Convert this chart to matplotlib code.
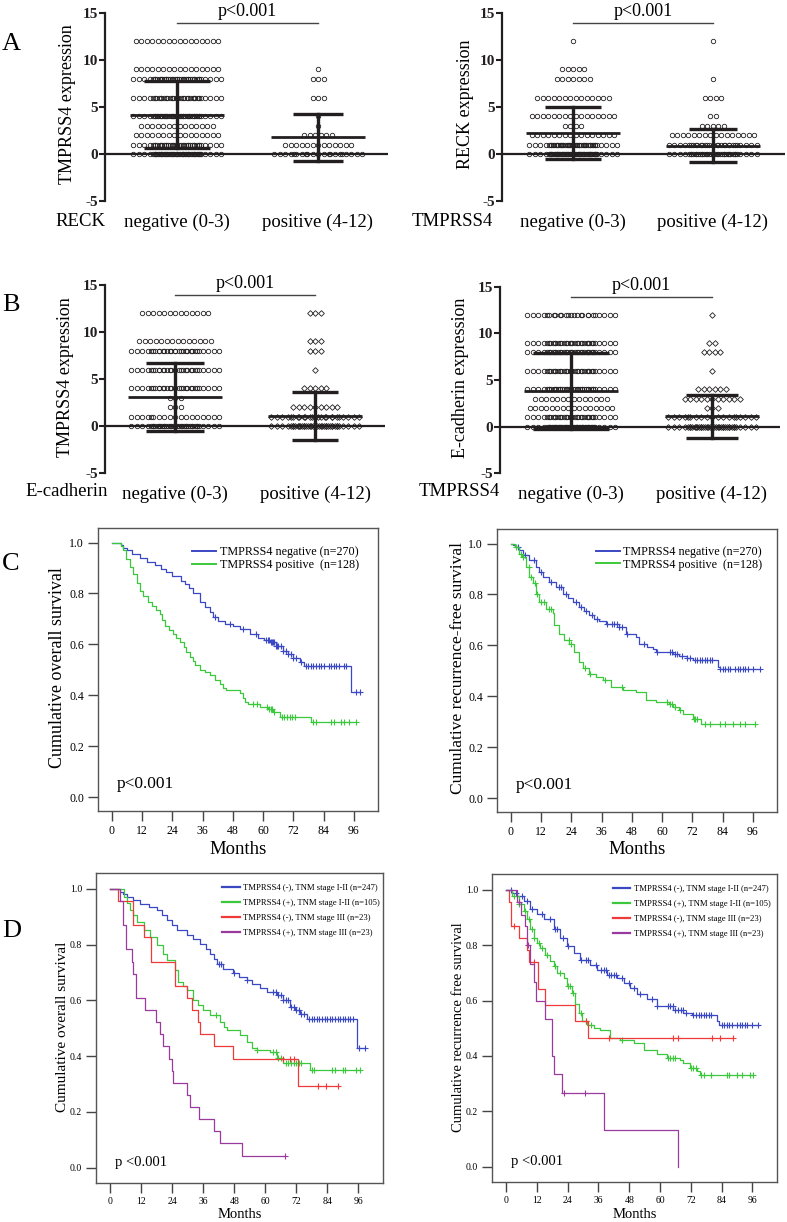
import numpy as np
import matplotlib
matplotlib.use('Agg')
import matplotlib.pyplot as plt
from matplotlib.ticker import FormatStrFormatter
from matplotlib.lines import Line2D

plt.rcParams['font.family'] = ['Liberation Serif', 'DejaVu Serif']

# ================= DATA =================
# Panels A/B: number of cases at each immunostaining score, per group
score_levels = [0, 1, 2, 3, 4, 6, 8, 9, 12]

a1_neg_counts = [50, 40, 16, 14, 45, 35, 40, 16, 16]   # TMPRSS4 expr, RECK negative
a1_pos_counts = [22, 13, 6, 1, 1, 3, 3, 1, 0]          # TMPRSS4 expr, RECK positive
a2_neg_counts = [60, 45, 16, 4, 16, 14, 7, 5, 1]       # RECK expr, TMPRSS4 negative
a2_pos_counts = [40, 30, 16, 5, 2, 4, 1, 0, 1]         # RECK expr, TMPRSS4 positive
b1_neg_counts = [40, 18, 3, 3, 30, 30, 30, 14, 13]     # TMPRSS4 expr, E-cad negative
b1_pos_counts = [40, 25, 9, 0, 5, 1, 3, 3, 3]          # TMPRSS4 expr, E-cad positive
b2_neg_counts = [50, 35, 16, 14, 40, 35, 35, 35, 25]   # E-cad expr, TMPRSS4 negative
b2_pos_counts = [40, 20, 3, 11, 6, 1, 4, 2, 1]         # E-cad expr, TMPRSS4 positive

# mean, SD
a1_stats = [(4.2, 3.6), (1.8, 2.5)]
a2_stats = [(2.2, 2.75), (0.9, 1.8)]
b1_stats = [(3.1, 3.65), (1.05, 2.55)]
b2_stats = [(3.8, 4.1), (1.1, 2.3)]

group_labels = ['negative (0-3)', 'positive (4-12)']
p_text = 'p<0.001'
y_ticks_ab = [-5, 0, 5, 10, 15]

# Panel C: Kaplan-Meier (time in months, survival)
c_os_neg_t = [3.5, 4.4, 6, 8, 11, 14, 17, 19.5, 21.6, 24, 27.5, 29, 30.5, 32, 34.8, 37, 39, 40.1,
              42.1, 45, 48.1, 51, 54.7, 58, 60.5, 62.6, 65, 67.9, 70, 72, 74.6, 76.2, 95]
c_os_neg_s = [0.99, 0.978, 0.97, 0.955, 0.94, 0.925, 0.91, 0.895, 0.885, 0.87, 0.85, 0.835, 0.82, 0.80,
              0.765, 0.745, 0.725, 0.706, 0.69, 0.68, 0.673, 0.66, 0.64, 0.625, 0.615, 0.608, 0.595,
              0.575, 0.56, 0.545, 0.53, 0.516, 0.414]
c_os_neg_end = 98.4
c_os_neg_cens = [41, 47, 52, 57, 61, 62, 62.5, 63, 63.5, 64, 64.5, 65, 65.5, 66, 67, 68, 69, 70, 71,
                 72, 73, 75, 77, 78, 79, 80, 81, 82, 83, 84, 86, 87, 88, 89, 90, 92, 93, 97, 98.4]

c_os_pos_t = [3.8, 4.5, 5.7, 7, 8.5, 10, 11, 12.5, 14.3, 16, 17.5, 19, 20, 21, 22.5, 24.2, 25.5, 26.9,
              28.5, 29.5, 30.9, 32, 33, 34.8, 37, 38.8, 41, 42.8, 44, 45.4, 50.7, 52, 53, 54, 58.7,
              62, 64, 66.6, 79.2]
c_os_pos_s = [0.985, 0.97, 0.935, 0.905, 0.875, 0.84, 0.81, 0.79, 0.765, 0.75, 0.735, 0.72, 0.695,
              0.67, 0.655, 0.64, 0.625, 0.61, 0.59, 0.57, 0.55, 0.535, 0.52, 0.50, 0.49, 0.48, 0.46,
              0.445, 0.43, 0.42, 0.41, 0.39, 0.375, 0.366, 0.353, 0.345, 0.335, 0.314, 0.294]
c_os_pos_end = 97
c_os_pos_cens = [56, 57.5, 61.5, 62.5, 63, 63.5, 64.5, 67.5, 68.5, 69.5, 70.5, 71.5, 72.5, 80, 81,
                 87, 88, 91, 92, 94, 97]

c_rfs_neg_t = [1, 2, 3.3, 5, 7.3, 9.9, 11, 12.6, 15, 17.9, 20.5, 22.5, 24.5, 27.2, 29, 31.1, 33, 35,
               37.7, 43, 45.7, 49.7, 51, 54, 56.3, 57.6, 64.2, 66.9, 70, 72.2, 82, 82.8]
c_rfs_neg_s = [0.995, 0.985, 0.974, 0.955, 0.934, 0.908, 0.89, 0.869, 0.85, 0.83, 0.80, 0.785, 0.77,
               0.75, 0.735, 0.718, 0.705, 0.695, 0.685, 0.672, 0.646, 0.633, 0.607, 0.595, 0.587,
               0.574, 0.565, 0.557, 0.55, 0.544, 0.515, 0.508]
c_rfs_neg_end = 98.7
c_rfs_neg_cens = [3, 5.5, 9, 12, 16, 19, 20, 22, 26, 28, 30, 32, 34, 38, 40, 41, 42, 43, 44, 46, 53,
                  58, 63, 64, 65, 66, 68, 70, 71, 73, 74, 75, 76, 77, 78, 79, 80, 83, 84, 85, 86, 87,
                  89, 90, 91, 92, 93, 94, 96, 98.7]

c_rfs_pos_t = [1.5, 3.3, 4.5, 6, 7.3, 8.6, 9.9, 11.3, 13.9, 16.6, 17.2, 19.2, 21, 23.2, 25.2, 27.2,
               28.5, 31.1, 33.8, 36.4, 39.7, 44.4, 49.7, 53.6, 57.6, 62.9, 64.2, 66.9, 68.2, 72.2, 75.5]
c_rfs_pos_s = [0.985, 0.96, 0.948, 0.908, 0.869, 0.843, 0.803, 0.77, 0.744, 0.725, 0.679, 0.646, 0.62,
               0.607, 0.574, 0.535, 0.509, 0.489, 0.476, 0.463, 0.436, 0.423, 0.417, 0.384, 0.378,
               0.371, 0.358, 0.345, 0.332, 0.312, 0.29]
c_rfs_pos_end = 96.7
c_rfs_pos_cens = [2, 4, 5, 7, 8, 9.5, 10.5, 12, 13, 15, 16, 23, 24, 29.5, 31.5, 37.5, 44, 62, 63, 64,
                  65, 67, 72.5, 73, 74, 77, 79, 83, 85, 88, 91, 93, 96.7]

c_legend = ['TMPRSS4 negative (n=270)', 'TMPRSS4 positive  (n=128)']

# Panel D
d_os_1_t = [3.9, 5, 6.4, 9, 11.6, 15, 18, 20, 21.9, 24, 25.8, 29.6, 32, 34.8, 37, 38.7, 40, 41.2, 43.8,
            47.7, 50, 52.8, 55, 58, 60.6, 64.4, 67, 69.6, 71.5, 73.4, 76, 95.4]
d_os_1_s = [0.99, 0.98, 0.971, 0.96, 0.947, 0.935, 0.924, 0.905, 0.888, 0.87, 0.852, 0.834, 0.82,
            0.804, 0.785, 0.768, 0.75, 0.732, 0.714, 0.697, 0.685, 0.673, 0.66, 0.643, 0.631, 0.619,
            0.601, 0.577, 0.565, 0.553, 0.535, 0.428]
d_os_1_end = 98.6
d_os_1_cens = [42, 43, 48, 53, 63, 64, 65, 66, 67, 68, 69, 70, 71, 72, 73, 74, 75, 77, 78, 79, 80, 81,
               82, 83, 84, 85, 86, 87, 88, 89, 90, 91, 92, 93, 94, 96.5, 98.6]

d_os_2_t = [5.2, 6.5, 7.7, 9, 10.3, 12.9, 15.5, 18, 20.6, 21.9, 25.1, 26.4, 28, 29.6, 32.2, 34, 36.1,
            38.7, 42.5, 44, 45.1, 50.3, 52.8, 55, 56.7, 61.9, 64.4, 67, 77.3]
d_os_2_s = [0.97, 0.95, 0.924, 0.905, 0.882, 0.852, 0.828, 0.798, 0.768, 0.744, 0.708, 0.667, 0.65,
            0.637, 0.601, 0.585, 0.565, 0.547, 0.523, 0.505, 0.493, 0.475, 0.452, 0.43, 0.422, 0.416,
            0.392, 0.374, 0.35]
d_os_2_end = 96.6
d_os_2_cens = [41, 57, 63, 64, 65, 66, 68, 69, 70, 71, 72, 73, 74, 78, 79, 86, 87, 90, 91, 95, 96.6]

d_os_3_t = [3.2, 9.0, 12.9, 15.8, 25.1, 29.6, 31.6, 34.1, 34.8, 40.0, 47.7, 72.8]
d_os_3_s = [0.957, 0.870, 0.826, 0.739, 0.652, 0.609, 0.565, 0.522, 0.478, 0.435, 0.391, 0.293]
d_os_3_end = 88.3
d_os_3_cens = [67, 69.5, 71, 80.5, 83.5, 88.3]

d_os_4_t = [3.9, 4.9, 6.2, 8.4, 9.0, 10.1, 13.5, 17.8, 19.3, 20.6, 22.6, 23.8, 24.2, 29.6, 30.9, 34.5,
            40.0, 42.5, 51.0]
d_os_4_s = [0.957, 0.870, 0.783, 0.739, 0.696, 0.609, 0.565, 0.522, 0.478, 0.435, 0.391, 0.348, 0.304,
            0.261, 0.217, 0.174, 0.130, 0.087, 0.043]
d_os_4_end = 67.7
d_os_4_cens = [67.7]

d_rfs_1_t = [2.3, 4.3, 6.9, 9.5, 12, 14.7, 18.5, 21.1, 23.7, 26.3, 28.9, 32.8, 35.4, 39.3, 43.2, 45.8,
             48.4, 51, 54.9, 58.8, 62.6, 65.2, 69.1, 72.4, 82.1, 82.8]
d_rfs_1_s = [0.989, 0.977, 0.959, 0.929, 0.911, 0.893, 0.857, 0.827, 0.796, 0.772, 0.748, 0.73, 0.712,
             0.694, 0.682, 0.664, 0.646, 0.622, 0.604, 0.582, 0.58, 0.567, 0.555, 0.549, 0.525, 0.513]
d_rfs_1_end = 98.3
d_rfs_1_cens = [2, 4, 6, 8, 10, 14, 17, 19, 20, 22, 24, 29, 31, 32, 35, 37, 38, 39, 40, 41, 42, 43, 45,
                48, 50, 52, 57, 59, 63, 64, 65, 66, 67, 68, 69, 70, 73, 74, 75, 76, 77, 78, 79, 80,
                84, 85, 86, 87, 88, 90, 91, 92, 93, 94, 96, 98.3]

d_rfs_2_t = [2.3, 4.9, 6.9, 8.2, 9.5, 10.8, 12.1, 13.4, 15.3, 17.2, 18.5, 19.8, 22.4, 23.7, 25.7, 27,
             28.3, 29.6, 31.5, 34.1, 36.7, 40.6, 44.5, 49.7, 53.6, 58.8, 62.6, 67.8, 69.1, 71.7, 74.3,
             75.6]
d_rfs_2_s = [0.977, 0.947, 0.923, 0.893, 0.857, 0.827, 0.808, 0.79, 0.766, 0.742, 0.724, 0.70, 0.682,
             0.652, 0.628, 0.586, 0.556, 0.525, 0.513, 0.501, 0.495, 0.465, 0.459, 0.447, 0.423, 0.408,
             0.393, 0.387, 0.376, 0.357, 0.345, 0.33]
d_rfs_2_end = 96.4
d_rfs_2_cens = [3, 5, 7.5, 9, 10, 11, 13, 14, 16, 19, 21, 24, 25, 26, 29, 31, 33, 45, 63, 64, 65, 66,
                72, 73, 74, 76, 77, 80, 86, 87, 90, 92, 95, 96.4]

d_rfs_3_t = [1.3, 1.9, 4.9, 8.2, 8.8, 12.5, 15.2, 26.7, 31.9]
d_rfs_3_s = [0.957, 0.870, 0.826, 0.783, 0.739, 0.640, 0.585, 0.527, 0.464]
d_rfs_3_end = 88.6
d_rfs_3_cens = [3.2, 10.8, 31, 40, 65, 67.2, 80.4, 83.4, 88.6]

d_rfs_4_t = [4.3, 5.8, 7.5, 8.2, 9.5, 10.8, 11.8, 15.3, 17.9, 18.5, 21.8, 38.0, 67.2]
d_rfs_4_s = [0.957, 0.91, 0.87, 0.80, 0.733, 0.667, 0.60, 0.535, 0.40, 0.335, 0.268, 0.134, 0.0]
d_rfs_4_end = 67.2
d_rfs_4_cens = [5.0, 8.5, 22.7, 30.9]

d_legend = ['TMPRSS4 (-), TNM stage I-II (n=247)', 'TMPRSS4 (+), TNM stage I-II (n=105)',
            'TMPRSS4 (-), TNM stage III (n=23)', 'TMPRSS4 (+), TNM stage III (n=23)']

month_ticks = [0, 12, 24, 36, 48, 60, 72, 84, 96]

# ================= FIGURE =================
W, H = 787, 1222
fig = plt.figure(figsize=(W / 100, H / 100), dpi=100)
INK = '#231f20'


def px_axes(x0, y0, x1, y1):
    return fig.add_axes([x0 / W, 1 - y1 / H, (x1 - x0) / W, (y1 - y0) / H])


def ftext(x, y, s, **kw):
    fig.text(x / W, 1 - y / H, s, **kw)


def row_positions(n, center, sp=5.5, nmax=17, core=24):
    if n <= nmax:
        return center + (np.arange(n) - (n - 1) / 2) * sp
    outer = center + (np.arange(nmax) - (nmax - 1) / 2) * sp
    inner = center + np.linspace(-core, core, n - nmax)
    return np.concatenate([outer, inner])


def dot_panel(box, centers, counts, stats, markers, caps, ylabel, ylab_xy, grp, grp_x, cat_y):
    x0, y0, x1, y1 = box
    ax = px_axes(x0, y0, x1, y1)
    ax.set_xlim(0, x1 - x0)
    ax.set_ylim(-5, 15)
    for sname in ['top', 'right', 'bottom']:
        ax.spines[sname].set_visible(False)
    ax.spines['left'].set_linewidth(1.6)
    ax.spines['left'].set_color(INK)
    ax.set_yticks(y_ticks_ab, labels=[str(v) for v in y_ticks_ab], fontweight='bold',
                  fontsize=11)
    ax.tick_params(axis='y', direction='out', length=4, width=1.5, colors=INK, pad=1)
    ax.axhline(0, color=INK, lw=1.6, zorder=1)
    ax.set_xticks(centers, labels=group_labels, fontsize=13.5)
    ax.tick_params(axis='x', length=0, pad=9, colors='black')
    for c, cnt, (m, sd), mk, cap in zip(centers, counts, stats, markers, caps):
        for lvl, n in zip(score_levels, cnt):
            if n == 0:
                continue
            xs = row_positions(n, c)
            ax.plot(xs, np.full(len(xs), lvl), linestyle='none', marker=mk,
                    ms=3.2 if mk == 'o' else 2.9, mfc='none', mec=INK, mew=0.6,
                    clip_on=False, zorder=2)
        ax.plot([c - 47, c + 47], [m, m], color=INK, lw=2.0, zorder=3, solid_capstyle='butt')
        ax.plot([c, c], [m - sd, m + sd], color=INK, lw=2.4, zorder=3)
        for yv in (m - sd, m + sd):
            ax.plot([c - cap, c + cap], [yv, yv], color=INK, lw=2.4, zorder=3,
                    solid_capstyle='butt')
    ax.plot([centers[0], centers[1]], [13.9, 13.9], color='#444444', lw=1.0, clip_on=False)
    ax.text(np.mean(centers), 14.7, p_text, ha='center', va='baseline', fontsize=13,
            clip_on=False)
    ftext(ylab_xy[0], ylab_xy[1], ylabel, rotation=90, ha='center', va='center', fontsize=13)
    ftext(grp_x, cat_y, grp, ha='right', va='center', fontsize=13.5)
    return ax


dot_panel((105, 13, 388, 201), [72, 213], [a1_neg_counts, a1_pos_counts], a1_stats, ['o', 'o'],
          [33, 25], 'TMPRSS4 expression', (67, 104), 'RECK', 105, 222)
dot_panel((502, 13, 785, 201), [71, 211], [a2_neg_counts, a2_pos_counts], a2_stats, ['o', 'o'],
          [28, 24], 'RECK expression', (465, 104), 'TMPRSS4', 493, 222)
dot_panel((105, 285, 385, 473), [70, 210], [b1_neg_counts, b1_pos_counts], b1_stats, ['o', 'D'],
          [29, 23], 'TMPRSS4 expression', (66, 377), 'E-cadherin', 108, 492)
dot_panel((500, 287, 780, 473), [71, 212], [b2_neg_counts, b2_pos_counts], b2_stats, ['o', 'D'],
          [38, 26], 'E-cadherin expression', (461, 378), 'TMPRSS4', 500, 492)


# ---------- KM panels ----------
BLUE, GREEN, RED, PURPLE = '#3a48c4', '#3cc83c', '#f03a3a', '#9a3a9e'


def km_axes(box, ylabel, ylab_xy, fs_tick, fs_lab, fs_months, months_y, p_label, fs_p, p_y):
    x0, y0, x1, y1 = box
    ax = px_axes(x0, y0, x1, y1)
    ax.set_xlim(-5.5, 105.6)
    ax.set_ylim(-0.055, 1.057)
    for s in ax.spines.values():
        s.set_color('#555555')
        s.set_linewidth(1.0)
    ax.set_xticks(month_ticks)
    ax.set_yticks([0, 0.2, 0.4, 0.6, 0.8, 1.0])
    ax.yaxis.set_major_formatter(FormatStrFormatter('%.1f'))
    ax.tick_params(direction='out', length=7, width=1.0, color='#444444', labelsize=fs_tick, pad=3)
    ftext(ylab_xy[0], ylab_xy[1], ylabel, rotation=90, ha='center', va='center', fontsize=fs_lab)
    ftext((x0 + x1) / 2, months_y, 'Months', ha='center', va='center', fontsize=fs_months)
    ax.text(2, p_y, p_label, ha='left', va='center', fontsize=fs_p)
    return ax


def km(ax, t, s, end, cens, color, lw=0.9):
    tt = np.concatenate([[0.0], t, [end]])
    ss = np.concatenate([[1.0], s, [s[-1]]])
    ax.step(tt, ss, where='post', color=color, lw=lw)
    cens = np.asarray(cens, dtype=float)
    idx = np.searchsorted(tt, cens, side='right') - 1
    idx = np.clip(idx, 0, len(ss) - 1)
    ax.plot(cens, ss[idx], linestyle='none', marker='+', color=color, ms=5, mew=0.8)


axC1 = km_axes((98, 528, 378, 811), 'Cumulative overall survival', (58, 668), 8.5, 13, 13.5, 850,
               'p<0.001', 12.5, 0.05)
km(axC1, c_os_neg_t, c_os_neg_s, c_os_neg_end, c_os_neg_cens, BLUE)
km(axC1, c_os_pos_t, c_os_pos_s, c_os_pos_end, c_os_pos_cens, GREEN)

axC2 = km_axes((497, 529, 777, 812), 'Cumulative recurrence-free survival', (458, 668), 8.5, 12.5,
               13.5, 850, 'p<0.001', 12.5, 0.05)
km(axC2, c_rfs_neg_t, c_rfs_neg_s, c_rfs_neg_end, c_rfs_neg_cens, BLUE)
km(axC2, c_rfs_pos_t, c_rfs_pos_s, c_rfs_pos_end, c_rfs_pos_cens, GREEN)

for ax, anchor in ((axC1, (0.335, 0.935)), (axC2, (0.352, 0.94))):
    handles = [Line2D([], [], color=BLUE, lw=1.4), Line2D([], [], color=GREEN, lw=1.4)]
    ax.legend(handles, c_legend, loc='upper left', bbox_to_anchor=anchor, frameon=False,
              fontsize=8.7, handlelength=2.0, handletextpad=0.3, labelspacing=0.05,
              borderpad=0, borderaxespad=0)

axD1 = km_axes((96, 873, 383, 1183), 'Cumulative overall survival', (62, 1027), 7, 11, 10.5, 1215,
               'p <0.001', 10.5, 0.02)
km(axD1, d_os_1_t, d_os_1_s, d_os_1_end, d_os_1_cens, BLUE)
km(axD1, d_os_2_t, d_os_2_s, d_os_2_end, d_os_2_cens, GREEN)
km(axD1, d_os_3_t, d_os_3_s, d_os_3_end, d_os_3_cens, RED)
km(axD1, d_os_4_t, d_os_4_s, d_os_4_end, d_os_4_cens, PURPLE)

axD2 = km_axes((492, 874, 777, 1182), 'Cumulative recurrence free survival', (458, 1027), 7, 10.5,
               10.5, 1215, 'p <0.001', 10.5, 0.02)
km(axD2, d_rfs_1_t, d_rfs_1_s, d_rfs_1_end, d_rfs_1_cens, BLUE)
km(axD2, d_rfs_2_t, d_rfs_2_s, d_rfs_2_end, d_rfs_2_cens, GREEN)
km(axD2, d_rfs_3_t, d_rfs_3_s, d_rfs_3_end, d_rfs_3_cens, RED)
km(axD2, d_rfs_4_t, d_rfs_4_s, d_rfs_4_end, d_rfs_4_cens, PURPLE)

for ax, anchor in ((axD1, (0.44, 0.965)), (axD2, (0.425, 0.965))):
    handles = [Line2D([], [], color=c, lw=1.6) for c in (BLUE, GREEN, RED, PURPLE)]
    ax.legend(handles, d_legend, loc='upper left', bbox_to_anchor=anchor, frameon=False,
              fontsize=6.2, handlelength=2.0, handletextpad=0.4, labelspacing=0.8,
              borderpad=0, borderaxespad=0)

# panel letters
for letter, y in (('A', 50), ('B', 311), ('C', 570), ('D', 937)):
    ftext(2, y, letter, ha='left', va='baseline', fontsize=19)

fig.savefig('out.png', dpi=100)
